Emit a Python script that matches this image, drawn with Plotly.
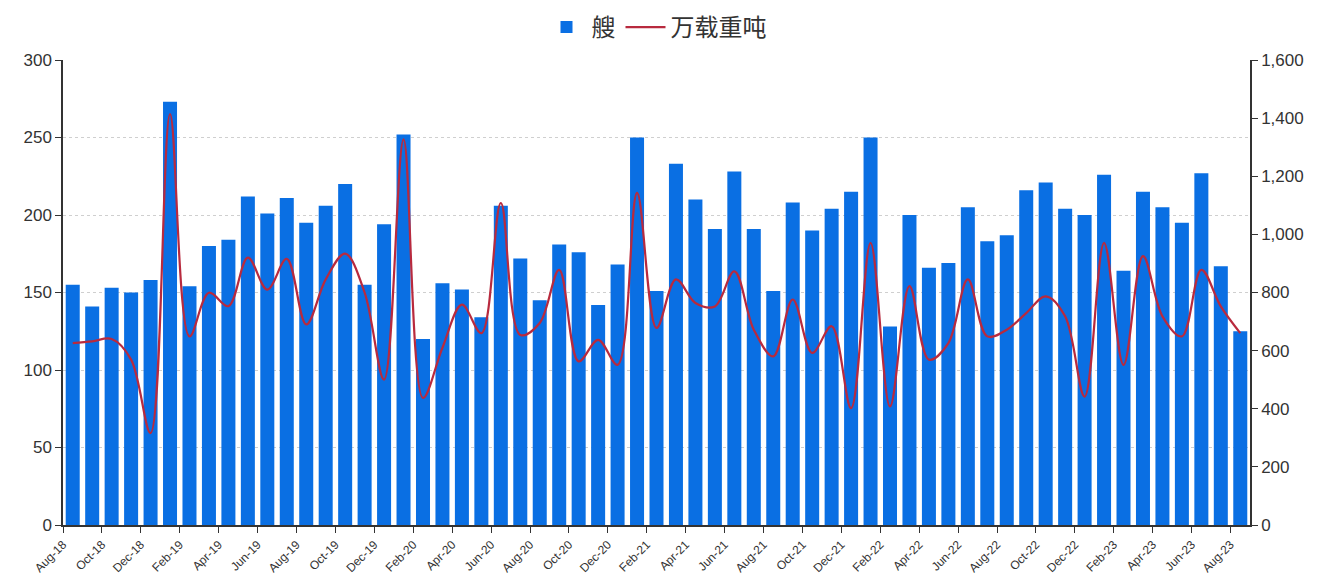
import plotly.graph_objects as go

months = ["Aug-18","Sep-18","Oct-18","Nov-18","Dec-18","Jan-19","Feb-19","Mar-19","Apr-19","May-19",
          "Jun-19","Jul-19","Aug-19","Sep-19","Oct-19","Nov-19","Dec-19","Jan-20","Feb-20","Mar-20",
          "Apr-20","May-20","Jun-20","Jul-20","Aug-20","Sep-20","Oct-20","Nov-20","Dec-20","Jan-21",
          "Feb-21","Mar-21","Apr-21","May-21","Jun-21","Jul-21","Aug-21","Sep-21","Oct-21","Nov-21",
          "Dec-21","Jan-22","Feb-22","Mar-22","Apr-22","May-22","Jun-22","Jul-22","Aug-22","Sep-22",
          "Oct-22","Nov-22","Dec-22","Jan-23","Feb-23","Mar-23","Apr-23","May-23","Jun-23","Jul-23",
          "Aug-23"]

ships = [155, 141, 153, 150, 158, 273, 154, 180, 184, 212,
         201, 211, 195, 206, 220, 155, 194, 252, 120, 156,
         152, 134, 206, 172, 145, 181, 176, 142, 168, 250,
         151, 233, 210, 191, 228, 191, 151, 208, 190, 204,
         215, 250, 128, 200, 166, 169, 205, 183, 187, 216,
         221, 204, 200, 226, 164, 215, 205, 195, 227, 167,
         125]

dwt = [626, 632, 640, 569, 316, 1414, 649, 799, 753, 920,
       810, 916, 690, 845, 934, 800, 500, 1327, 437, 610,
       758, 660, 1108, 654, 695, 878, 563, 637, 551, 1143,
       678, 845, 764, 752, 873, 672, 580, 776, 592, 684,
       402, 971, 408, 822, 569, 626, 845, 649, 672, 729,
       787, 718, 442, 971, 551, 925, 718, 649, 878, 752,
       660]

tick_labels = months[::2]

xs = [i + 0.5 for i in range(len(months))]
tickvals = list(range(0, len(months), 2))

fig = go.Figure()
fig.add_trace(go.Bar(x=xs, y=ships, name="艘", marker=dict(color="#0A6FE3", line=dict(width=0)),
                     width=0.72, yaxis="y"))
fig.add_trace(go.Scatter(x=xs, y=dwt, name="万载重吨", mode="lines",
                         line=dict(color="#B82A3E", width=2.2, shape="spline", smoothing=1.0),
                         yaxis="y2"))

axis_font = dict(family="Liberation Sans, Arial, sans-serif", size=17, color="#333333")
fig.update_layout(
    width=1333, height=585,
    margin=dict(l=63, r=83, t=60, b=60, autoexpand=False),
    paper_bgcolor="white", plot_bgcolor="white",
    showlegend=True,
    legend=dict(orientation="h", x=0.5, xanchor="center", yref="container", y=0.953, yanchor="middle",
                font=dict(family="Noto Sans CJK SC", size=24, color="#333333"),
                itemwidth=40, traceorder="normal"),
    xaxis=dict(range=[0, len(months)], tickmode="array", tickvals=tickvals, ticktext=tick_labels,
               tickangle=-45, ticks="outside", ticklen=6, tickcolor="#333333",
               showline=True, linecolor="#333333", linewidth=2, showgrid=False, zeroline=False,
               tickfont=dict(family="Liberation Sans, Arial, sans-serif", size=12, color="#333333")),
    yaxis=dict(range=[0, 300], dtick=50, ticks="outside", ticklen=6, tickcolor="#333333",
               showline=True, linecolor="#333333", linewidth=1.5,
               showgrid=True, gridcolor="#cfcfcf", griddash="dot", gridwidth=1, zeroline=False,
               tickfont=axis_font),
    yaxis2=dict(range=[0, 1600], dtick=200, overlaying="y", side="right", tickformat=",",
                ticks="outside", ticklen=6, tickcolor="#333333",
                showline=True, linecolor="#333333", linewidth=1.5, showgrid=False, zeroline=False,
                tickfont=axis_font),
)

fig.write_html("out.html")
